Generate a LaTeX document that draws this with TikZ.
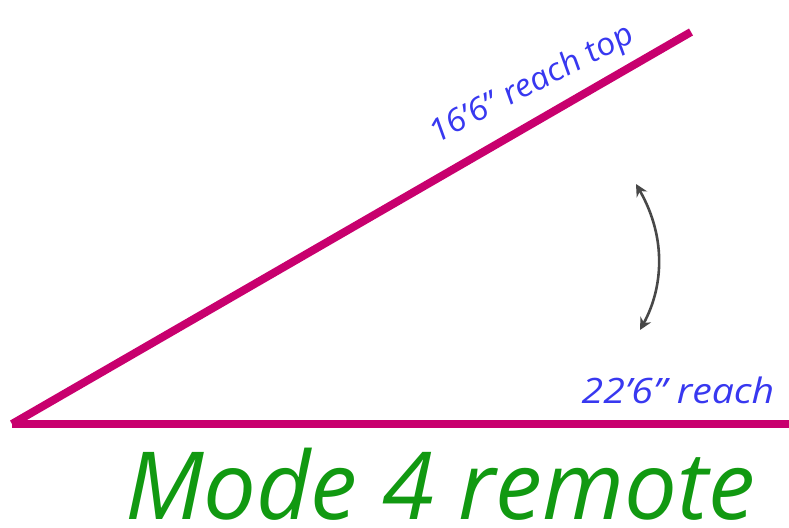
\documentclass[tikz,border=0pt]{standalone}
\usepackage{fontspec}
\setmainfont{Open Sans}
\usetikzlibrary{arrows.meta}
\definecolor{boom}{HTML}{C8006E}
\definecolor{lbl}{HTML}{3838F0}
\definecolor{title}{HTML}{119911}
\definecolor{arr}{HTML}{484848}
\begin{document}
\begin{tikzpicture}[x=1pt,y=-1pt,
  boomline/.style={boom,line width=8pt,line cap=butt},
  reachlabel/.style={lbl,font=\itshape,inner sep=0pt,xscale=1.12},
  swing/.style={arr,line width=2.6pt,{Stealth[length=12pt,width=12pt]}-{Stealth[length=12pt,width=12pt]}}]
\useasboundingbox (0,0) rectangle (789,527);
\coordinate (pivot) at (12,424);
\coordinate (tip) at (691,32);
\coordinate (endh) at (789,424);
\draw[boomline] (pivot) -- (endh);
\draw[boomline] (pivot) -- (tip);
\node[reachlabel,rotate=30,anchor=base] (toplbl) at (537,92) {\fontsize{31}{31}\selectfont 16'6" reach top};
\node[reachlabel,anchor=base] (botlbl) at (678,403) {\fontsize{35}{35}\selectfont 22'6" reach};
\coordinate (a1) at (636,184);
\coordinate (a2) at (640,330);
\draw[swing] (a1) .. controls (668,240) and (662,290) .. (a2);
\node[title,font=\fontsize{94}{94}\selectfont\itshape,anchor=base,inner sep=0pt] (mode) at (440,519) {Mode 4 remote};
\end{tikzpicture}
\end{document}
